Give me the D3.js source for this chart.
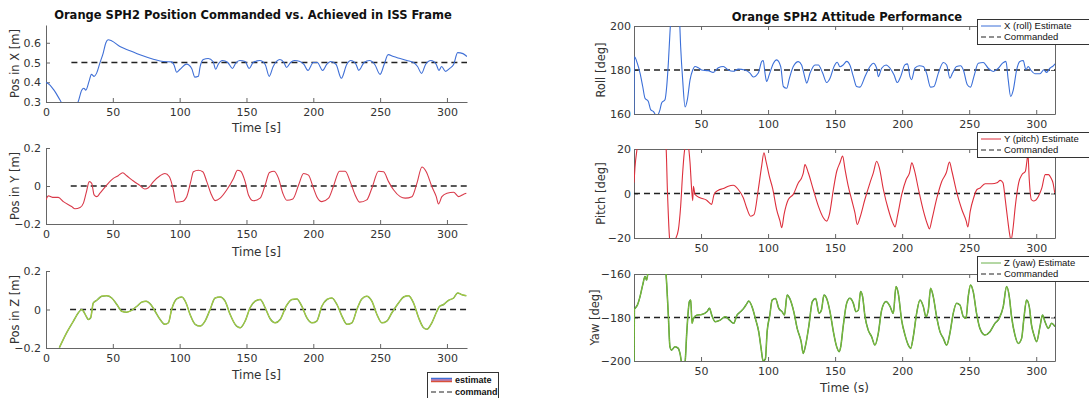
<!DOCTYPE html>
<html>
<head>
<meta charset="utf-8">
<script src="https://cdn.jsdelivr.net/npm/d3@7"></script>
<style>
  body { margin: 0; background: #fff; }
  text { font-family: "DejaVu Sans", sans-serif; fill: #333; }
  .axis path, .axis line { stroke: #666; }
  .axis text { font-size: 11px; fill: #333; }
</style>
</head>
<body>
<script>
// ---- data: [time (s), value] ----
var posX = [[0,0.40],[3,0.386],[6,0.36],[10.5,0.31],[14,0.27],[20,0.26],[24,0.30],[26.7,0.36],[28.3,0.37],[29.8,0.36],
  [32.3,0.407],[34,0.44],[36,0.43],[37.8,0.445],[40.3,0.497],[42.8,0.548],[44.8,0.60],[46.5,0.615],[49,0.61],[55.3,0.581],
  [62.8,0.56],[70.3,0.539],[80.3,0.517],[87.8,0.505],[94,0.503],[95.8,0.488],[97.8,0.451],[100.3,0.466],[105.2,0.492],
  [109,0.47],[111.4,0.426],[114,0.43],[115.3,0.478],[117.7,0.515],[121.4,0.52],[125,0.505],[127,0.466],[128.8,0.49],
  [132,0.51],[136,0.50],[139.5,0.47],[142,0.497],[145,0.51],[149,0.505],[152,0.47],[155,0.5],[160,0.51],[164,0.49],
  [167,0.43],[170,0.48],[175,0.515],[178,0.50],[180,0.475],[183,0.50],[186,0.51],[190,0.505],[193,0.49],[196,0.46],
  [200,0.50],[203,0.50],[207,0.46],[210,0.49],[213,0.505],[217,0.49],[221,0.42],[225,0.49],[228,0.51],[232,0.49],
  [234,0.46],[238,0.50],[242,0.51],[246,0.49],[250,0.44],[253,0.49],[256,0.54],[260,0.53],[265,0.52],[270,0.51],
  [275,0.50],[278,0.48],[281,0.445],[284,0.49],[288,0.51],[292,0.49],[294,0.46],[296,0.48],[299,0.455],[302,0.47],
  [305,0.49],[308,0.55],[312,0.545],[315,0.53]];
var posY = [[0,-0.073],[1.7,-0.052],[3.5,-0.056],[5.5,-0.06],[9.2,-0.06],[13,-0.082],[19.2,-0.108],[21.7,-0.12],
  [25.5,-0.113],[28,-0.09],[30,-0.038],[32.4,0.023],[34.2,0.014],[36,-0.047],[38,-0.056],[40.4,-0.038],[45.4,0.005],
  [50.4,0.04],[54,0.054],[57.4,0.07],[60.4,0.054],[65.4,0.026],[70.4,0.002],[74,-0.016],[76.6,-0.009],[80.4,0.023],
  [85.3,0.054],[89,0.066],[92.3,0.049],[95.3,-0.02],[97.3,-0.085],[101.6,-0.082],[105.3,-0.056],[108.3,0.023],
  [110.3,0.075],[114,0.083],[117.3,0.075],[120.3,0.023],[123.3,-0.038],[126.5,-0.077],[130.3,-0.064],[135.3,-0.02],
  [140.3,0.04],[143.3,0.083],[145.7,0.078],[149,0.023],[151.5,-0.047],[155.2,-0.078],[160.2,-0.064],[164,0.005],
  [167.2,0.071],[170.7,0.078],[174,0.04],[177.2,-0.038],[180.2,-0.075],[184.7,-0.068],[189,0.005],[192.7,0.066],
  [196.4,0.057],[199.7,-0.003],[202.6,-0.056],[206.4,-0.082],[211.4,-0.064],[215,-0.003],[219.6,0.078],[223.9,0.078],
  [227.6,0.023],[231.3,-0.047],[234.6,-0.085],[240,-0.073],[243.8,-0.012],[248.8,0.078],[252.6,0.075],[256.3,0.023],
  [260,-0.02],[265,-0.056],[268.8,-0.064],[273.8,-0.056],[277.5,0.014],[281.3,0.1],[284.5,0.075],[288.7,-0.003],
  [292,-0.056],[293.7,-0.094],[296.2,-0.056],[300,-0.038],[305,-0.033],[308.7,-0.056],[312.5,-0.043],[314.5,-0.038]];
var posZ = [[10,-0.198],[15.5,-0.12],[20.5,-0.06],[24.2,-0.017],[26.7,0],[28,-0.009],[30,-0.034],[31.7,-0.052],
  [33.4,-0.043],[35.4,0.034],[38,0.048],[41.7,0.069],[45.4,0.072],[49.2,0.06],[53,0.026],[56.6,-0.009],[60.4,-0.014],
  [64,-0.005],[68,0.017],[71.6,0.038],[74.9,0.043],[78.4,0.026],[81.6,-0.009],[85.4,-0.052],[89,-0.077],[91.6,-0.069],
  [94,0],[97.8,0.055],[101.6,0.065],[104.8,0.034],[107.8,-0.026],[111.6,-0.077],[115.3,-0.086],[119,-0.06],[122.8,0],
  [126.5,0.06],[130.3,0.065],[134,0.043],[137.8,-0.026],[141.5,-0.077],[145.3,-0.095],[149,-0.06],[152.7,0.009],
  [156.5,0.043],[160.2,0.052],[164,0.009],[167.7,-0.048],[171.5,-0.069],[175.2,-0.052],[179.7,0.017],[184,0.052],
  [187.7,0.055],[191.4,0.017],[195.2,-0.043],[199,-0.069],[202.6,-0.06],[206.4,0.017],[210.2,0.052],[213.9,0.06],
  [217.7,0.026],[221.4,-0.034],[225.2,-0.077],[228.9,-0.069],[232.6,0],[236.3,0.055],[240,0.069],[243.8,0.043],
  [247.6,-0.026],[251.3,-0.069],[255,-0.06],[258.8,-0.017],[263.8,0.034],[267.5,0.065],[271.3,0.072],[275,0.034],
  [278.8,-0.043],[282.5,-0.095],[285,-0.103],[288.7,-0.069],[292.5,-0.009],[294.5,0.017],[297.5,0.026],[301.2,0.048],
  [305,0.06],[308,0.086],[311.2,0.077],[314.5,0.072]];
var roll = [[0,160],[0.3,186],[2.5,183],[4.5,178.6],[6.5,172.5],[8.2,167.2],[10.7,165.7],[12.4,162],[14.4,161.2],
  [16.9,159],[19.4,162],[20.6,165],[23.1,166.5],[24.4,172.5],[25.6,183],[26.8,196.7],[28.5,212],[31,218],[33.8,205],
  [34.8,190.6],[36.3,175.5],[38.1,163.2],[39.8,166.5],[41.8,175.5],[43.8,180],[45.5,181.6],[48,181],[50.5,180],
  [55.4,179.7],[59.1,178.9],[62.9,181],[66.6,181.6],[70.3,180],[74,179.4],[77.8,180.4],[82.7,180],[86.5,178.6],
  [89,176.8],[92.7,178.6],[95.2,183.8],[96.4,184.3],[97.7,178.6],[98.9,174.8],[100.9,177.9],[103.9,183],[106.4,184.6],
  [109.4,181.6],[111.4,172.5],[113.9,171.7],[115.9,176.2],[118.8,181.6],[122.6,183.8],[125,182.3],[127.6,176.2],
  [128.8,174],[131.3,178.6],[135,182.3],[137.5,182.3],[140.7,178.6],[143.7,174.3],[146.2,176.2],[149.2,181.6],
  [151.6,183.5],[153.6,181.5],[156,182.3],[158.6,183.9],[161,182.3],[163.6,177],[166,172.5],[168.5,172.2],[172.3,177],
  [176,181.6],[178.5,183.1],[181,180.8],[182.2,177],[184.7,180.8],[188,182.3],[191,180.8],[193.9,177.8],[196.4,174.3],
  [198.9,177],[202,182.3],[204,182.8],[205.8,177],[207,175.6],[209.5,180.8],[212.8,181.9],[215.8,181.6],[218.2,178.6],
  [221.2,172.2],[223.7,172.5],[227,178.6],[230.7,183.4],[233.2,182.3],[235.6,176.3],[237.6,178.6],[240.6,181.6],
  [243.6,181.9],[245.6,180.1],[248.6,173.3],[251,172.2],[253.5,177],[256.8,183.1],[260.5,183.4],[264.2,180.8],
  [268,179.3],[271.7,180.8],[274.9,183.1],[277.4,183.9],[279.1,175.6],[280.9,168],[282.9,171],[285.4,180.1],
  [287.8,183.9],[290.3,184.3],[292.3,180.1],[294,181.6],[295.8,180.1],[299,178.3],[302.8,178.3],[305.7,180.1],
  [307.7,178.9],[310.2,180.8],[312.7,181.9],[314,182.8]];
var pitch = [[0,4.8],[0.7,11.5],[2.5,21],[5,30],[15,32],[22,28],[23.9,21],[24.9,1.8],[26.4,-19.2],[28,-26],[30.6,-21],
  [33.1,-16.2],[34.8,-5.7],[36.3,9.3],[37.5,18.3],[38.8,22],[40.5,21],[41.8,13.8],[43,1.8],[43.8,-3.2],[44.3,3.2],
  [45.5,-0.4],[49.2,-1.9],[54.2,-3],[57.9,-4.9],[59.7,-0.4],[62.9,1.5],[66.6,2.2],[70.3,3.3],[74,3.7],[77.8,1.8],
  [81.5,-1.9],[84,-6.4],[87,-10.2],[89.5,-9.5],[92.7,1.8],[95.2,12.3],[96.9,18.3],[98.4,14.7],[100.9,7.8],[103.4,2.3],
  [106.4,-7.2],[108.9,-12.4],[110.2,-15.4],[111.9,-9.5],[115.1,-2.7],[118.8,-0.4],[122.6,4.8],[125,7],[126.3,9.3],
  [127.5,13],[130,9.3],[133.7,1.8],[137.5,-5.7],[141.2,-10.9],[143.7,-12.4],[145.7,-9.5],[148.7,1.8],[151.2,10],
  [153.6,13.8],[155.6,16.8],[157.4,10.8],[159.8,3.3],[162.3,-2.7],[164.8,-8.7],[166.5,-13.9],[168.5,-10.9],
  [172.2,-2.7],[176,4.8],[178.5,9.3],[181,14.5],[183,11.5],[186,1.8],[189.7,-7.2],[193,-13.2],[194.7,-15],
  [196.5,-10.2],[199.7,-0.4],[203,6.3],[205.5,9.3],[207.2,13.8],[209,10.8],[212.2,1.8],[215.9,-7.9],[218.9,-13.9],
  [220.4,-15.9],[222.2,-11.7],[225.9,-2],[229.6,5.5],[232.9,9.3],[235.3,14.1],[237.1,10],[240.8,0.3],[244.5,-7.2],
  [247.8,-12.4],[249,-15],[250.8,-7.9],[253.3,-2],[255.8,1.8],[258.2,2.5],[262,4.4],[267,4.4],[270.7,4.8],[273.2,5.9],
  [275.2,4.8],[276.9,-2.7],[278.7,-11.7],[280.2,-18.4],[281.2,-21],[282.6,-16.2],[284.4,-5.7],[286.9,4.8],[289.4,8.5],
  [291.9,10],[293.2,15.3],[293.8,18],[294.8,6.3],[296.3,-2.7],[298,-3.4],[301.7,-1.2],[304.2,2.5],[306.7,8.5],
  [309.2,8.5],[311,7],[312.5,4.8],[313.8,0.3]];
var yaw = [[0,-200],[0.3,-176],[0.7,-175.8],[2.5,-174.3],[4.5,-170.4],[6.5,-165],[8.2,-161.2],[9.4,-162.8],
  [10.7,-158],[14,-150],[20,-148],[23.6,-158],[25.6,-178.9],[26.8,-193.4],[28,-195],[30.6,-193.4],[33.1,-194.2],
  [34.3,-196.5],[36.3,-203],[38,-201],[39.4,-186.5],[41.3,-172.7],[42.3,-172],[43.3,-182.7],[44.3,-180.4],
  [46.8,-178.9],[50.5,-178.6],[54.3,-177.4],[56.3,-175.8],[58,-178.9],[60.5,-181.9],[64.3,-181.2],[68,-179.6],
  [71.3,-181.2],[74.3,-182.7],[76.8,-178.9],[79.3,-177.4],[81.8,-175.8],[84.3,-173.5],[85.6,-172.4],[88,-175],
  [90.5,-180.4],[93,-186.5],[94.8,-194.2],[96.3,-200],[98,-199],[99.3,-186.5],[101.3,-178.9],[103,-172],[105.5,-171.3],
  [108,-175.8],[110.5,-177.4],[112.2,-178.9],[114.2,-169.7],[116.2,-171.3],[119.2,-177.4],[121.7,-185],[124.7,-191.2],
  [126.2,-196.5],[128,-192.7],[130.5,-183.5],[133,-172.7],[135.5,-171.3],[138,-178.1],[139.8,-176.6],[141.7,-169.7],
  [143.7,-171.3],[146.2,-177.4],[148.7,-186.5],[151.2,-193.5],[153,-195.7],[154.2,-193.4],[156,-184.2],[158.6,-173.5],
  [161,-171.2],[163.6,-173.5],[165.5,-177.3],[167.3,-176.6],[169,-168.1],[170.5,-170.4],[172.3,-179.6],[174.7,-185.8],
  [177.2,-188.8],[179.7,-192.7],[182.2,-187.3],[184.7,-176.6],[188,-172.7],[191,-175],[193.4,-178.1],[195.4,-165.8],
  [197.1,-168.9],[199.6,-181.2],[202.1,-188],[204.6,-192.7],[206.3,-194.2],[208.3,-188.8],[210.8,-178.1],[213.3,-172],
  [215.8,-175],[217.7,-179.6],[219.5,-176.6],[221.2,-166.6],[223.2,-170.4],[225.7,-179.6],[228.2,-186.5],
  [230.7,-189.6],[233.2,-192.7],[235.6,-187.3],[238.1,-178.1],[240.6,-173.5],[243.1,-174.3],[245.6,-179.6],
  [247.6,-180.4],[249.3,-170.4],[251,-165],[253,-168.1],[255.5,-178.1],[258,-185],[261.7,-188],[265.5,-186.5],
  [269.2,-182.7],[272.4,-180.4],[275.4,-175],[277.9,-165.8],[279.9,-170.4],[281.6,-179.6],[284.1,-188],[286.6,-191.9],
  [289.1,-189.6],[290.8,-180.4],[292.8,-172],[294.8,-175],[296.5,-183.5],[298.3,-188],[300.3,-191.1],[302.8,-184.2],
  [304.7,-178.9],[306.5,-181.9],[309,-185],[311.5,-182.7],[314,-184.2]];

// commanded set points: [start time, value]
var cmdPos = [[19, 0.5], [18.5, 0], [18, 0]];
var cmdAtt = [180, 0, -180];

var timeTicks = [0, 50, 100, 150, 200, 250, 300];
var timeTicksRight = [50, 100, 150, 200, 250, 300];
var ticksX = [0.3, 0.4, 0.5, 0.6];
var ticksPos = [-0.2, 0, 0.2];
var ticksRoll = [160, 180, 200];
var ticksPitch = [-20, 0, 20];
var ticksYaw = [-200, -180, -160];

var svg = d3.select('body').append('svg')
    .attr('width', 1089)
    .attr('height', 398);

var line = d3.line().x(function(d) { return d.x; }).y(function(d) { return d.y; });
var smooth = d3.line().x(function(d) { return d.x; }).y(function(d) { return d.y; }).curve(d3.curveMonotoneX);

var clipId = 0;

// one subplot
function panel(o) {
    var x = d3.scaleLinear().domain(o.xDomain).range(o.xRange);
    var y = d3.scaleLinear().domain(o.yDomain).range(o.yRange);
    var g = svg.append('g');

    clipId += 1;
    svg.append('clipPath').attr('id', 'clip' + clipId)
        .append('rect')
        .attr('x', o.xRange[0]).attr('y', o.yRange[1])
        .attr('width', o.xRange[1] - o.xRange[0])
        .attr('height', o.yRange[0] - o.yRange[1]);

    // axes, ticks point inward like matlab
    g.append('g')
        .attr('class', 'axis')
        .attr('transform', 'translate(0,' + o.yRange[0] + ')')
        .call(d3.axisBottom(x).tickValues(o.xTicks).tickSizeInner(-4).tickSizeOuter(0).tickPadding(6));
    g.append('g')
        .attr('class', 'axis')
        .attr('transform', 'translate(' + o.xRange[0] + ',0)')
        .call(d3.axisLeft(y).tickValues(o.yTicks).tickFormat(o.yFormat).tickSizeInner(-4).tickSizeOuter(0).tickPadding(o.yPad));

    if (o.box) {
        g.append('g')
            .attr('class', 'axis')
            .attr('transform', 'translate(0,' + o.yRange[1] + ')')
            .call(d3.axisTop(x).tickValues(o.xTicks).tickSizeInner(-4).tickSizeOuter(0).tickFormat(''));
        g.append('g')
            .attr('class', 'axis')
            .attr('transform', 'translate(' + o.xRange[1] + ',0)')
            .call(d3.axisRight(y).tickValues(o.yTicks).tickSizeInner(-4).tickSizeOuter(0).tickFormat(''));
    }

    var plot = g.append('g').attr('clip-path', 'url(#clip' + clipId + ')');

    plot.append('path')
        .attr('d', line([{x: x(o.cmdStart), y: y(o.cmd)}, {x: x(o.xDomain[1]), y: y(o.cmd)}]))
        .attr('fill', 'none')
        .attr('stroke', '#222')
        .attr('stroke-width', 1.3)
        .attr('stroke-dasharray', '6,4');

    var pts = o.data.map(function(d) { return {x: x(d[0]), y: y(d[1])}; });
    if (o.under) {
        plot.append('path')
            .attr('d', smooth(pts))
            .attr('fill', 'none')
            .attr('stroke', o.under)
            .attr('stroke-width', 1.5);
    }
    plot.append('path')
        .attr('d', smooth(pts))
        .attr('fill', 'none')
        .attr('stroke', o.color)
        .attr('stroke-width', o.under ? 0.9 : 1.1);

    g.append('text')
        .attr('transform', 'translate(' + o.yLabelX + ',' + (o.yRange[0] + o.yRange[1]) / 2 + ') rotate(-90)')
        .attr('text-anchor', 'middle')
        .style('font-size', '11.5px')
        .text(o.yLabel);

    if (o.xLabel) {
        g.append('text')
            .attr('x', (o.xRange[0] + o.xRange[1]) / 2)
            .attr('y', o.xLabelY)
            .attr('text-anchor', 'middle')
            .style('font-size', '12px')
            .text(o.xLabel);
    }
}

var fmt = function(d) { return d === 0 ? '0' : d3.format('.1f')(d); };

// left column: position
panel({xDomain: [0, 315], xRange: [46, 467], yDomain: [0.3, 0.69], yRange: [102, 25],
    xTicks: timeTicks, yTicks: ticksX, yFormat: fmt, yPad: 5, box: false,
    data: posX, color: '#3f6fd6', cmd: cmdPos[0][1], cmdStart: cmdPos[0][0],
    yLabel: 'Pos in X [m]', yLabelX: 19, xLabel: 'Time [s]', xLabelY: 132});
panel({xDomain: [0, 315], xRange: [46, 467], yDomain: [-0.2, 0.2], yRange: [224, 148],
    xTicks: timeTicks, yTicks: ticksPos, yFormat: fmt, yPad: 5, box: false,
    data: posY, color: '#d93a4a', cmd: cmdPos[1][1], cmdStart: cmdPos[1][0],
    yLabel: 'Pos in Y [m]', yLabelX: 19, xLabel: 'Time [s]', xLabelY: 256});
panel({xDomain: [0, 315], xRange: [46, 467], yDomain: [-0.2, 0.2], yRange: [348, 271],
    xTicks: timeTicks, yTicks: ticksPos, yFormat: fmt, yPad: 5, box: false,
    data: posZ, color: '#b9d23e', under: '#6aa64a', cmd: cmdPos[2][1], cmdStart: cmdPos[2][0],
    yLabel: 'Pos in Z [m]', yLabelX: 19, xLabel: 'Time [s]', xLabelY: 379});

// right column: attitude
panel({xDomain: [0, 314], xRange: [634, 1055], yDomain: [160, 200], yRange: [114, 26],
    xTicks: timeTicksRight, yTicks: ticksRoll, yFormat: d3.format('d'), yPad: 3, box: true,
    data: roll, color: '#3b6fd8', cmd: cmdAtt[0], cmdStart: 0,
    yLabel: 'Roll [deg]', yLabelX: 605});
panel({xDomain: [0, 314], xRange: [634, 1055], yDomain: [-20, 20], yRange: [238, 149],
    xTicks: timeTicksRight, yTicks: ticksPitch, yFormat: d3.format('d'), yPad: 3, box: true,
    data: pitch, color: '#dd2f3c', cmd: cmdAtt[1], cmdStart: 0,
    yLabel: 'Pitch [deg]', yLabelX: 605});
panel({xDomain: [0, 314], xRange: [634, 1055], yDomain: [-200, -160], yRange: [361, 274],
    xTicks: timeTicksRight, yTicks: ticksYaw, yFormat: d3.format('d'), yPad: 3, box: true,
    data: yaw, color: '#8cc63f', under: '#3d8a2e', cmd: cmdAtt[2], cmdStart: 0,
    yLabel: 'Yaw [deg]', yLabelX: 599, xLabel: 'Time (s)', xLabelY: 392});

// titles
svg.append('text').attr('x', 253).attr('y', 19).attr('text-anchor', 'middle')
    .style('font-size', '11.5px').style('font-weight', 'bold').style('fill', '#111')
    .text('Orange SPH2 Position Commanded vs. Achieved in ISS Frame');
svg.append('text').attr('x', 847).attr('y', 21).attr('text-anchor', 'middle')
    .style('font-size', '11.5px').style('font-weight', 'bold').style('fill', '#111')
    .text('Orange SPH2 Attitude Performance');

// legends on the right
function rightLegend(top, label, color) {
    var lg = svg.append('g');
    lg.append('rect').attr('x', 977.5).attr('y', top + 0.5).attr('width', 120).attr('height', 25)
        .attr('fill', '#fff').attr('stroke', '#333');
    lg.append('line').attr('x1', 981).attr('x2', 1001).attr('y1', top + 7).attr('y2', top + 7)
        .attr('stroke', color).attr('stroke-width', 1);
    lg.append('line').attr('x1', 981).attr('x2', 1001).attr('y1', top + 18).attr('y2', top + 18)
        .attr('stroke', '#222').attr('stroke-width', 1.2).attr('stroke-dasharray', '5,3');
    lg.append('text').attr('x', 1004).attr('y', top + 10)
        .style('font-family', '"Liberation Sans", sans-serif').style('font-size', '9.5px').style('fill', '#111').text(label);
    lg.append('text').attr('x', 1004).attr('y', top + 21)
        .style('font-family', '"Liberation Sans", sans-serif').style('font-size', '9.5px').style('fill', '#111').text('Commanded');
}
rightLegend(19, 'X (roll) Estimate', '#3b6fd8');
rightLegend(132, 'Y (pitch) Estimate', '#dd2f3c');
rightLegend(256, 'Z (yaw) Estimate', '#6ab04a');

// legend bottom left
var lg = svg.append('g');
lg.append('rect').attr('x', 427.5).attr('y', 372.5).attr('width', 71).attr('height', 30)
    .attr('fill', '#fff').attr('stroke', '#333');
[['#3f6fd6', 378.5], ['#9a5aa8', 380], ['#d9503a', 381.5]].forEach(function(c) {
    lg.append('line').attr('x1', 431).attr('x2', 452).attr('y1', c[1]).attr('y2', c[1])
        .attr('stroke', c[0]).attr('stroke-width', 1.5);
});
lg.append('line').attr('x1', 431).attr('x2', 452).attr('y1', 392).attr('y2', 392)
    .attr('stroke', '#222').attr('stroke-width', 1.2).attr('stroke-dasharray', '5,3');
lg.append('text').attr('x', 455).attr('y', 383).style('font-family', '"Liberation Sans", sans-serif')
    .style('font-size', '9px').style('font-weight', 'bold').style('fill', '#111').text('estimate');
lg.append('text').attr('x', 455).attr('y', 395).style('font-family', '"Liberation Sans", sans-serif')
    .style('font-size', '9px').style('font-weight', 'bold').style('fill', '#111').text('command');
</script>
</body>
</html>
